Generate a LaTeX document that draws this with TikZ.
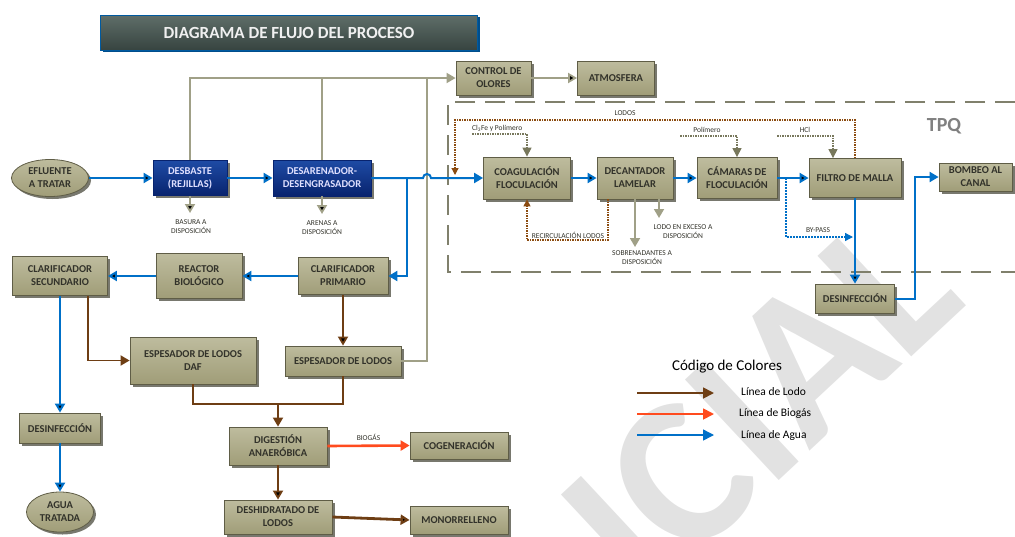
\documentclass[tikz,border=0pt]{standalone}
\usepackage{fontspec}
\setmainfont{Carlito}
\usepackage{tikz}
\usetikzlibrary{arrows.meta,shapes.geometric,shadows}

\definecolor{agua}{RGB}{0,112,200}
\definecolor{lodo}{RGB}{110,62,20}
\definecolor{biogas}{RGB}{255,75,30}
\definecolor{gris}{RGB}{160,160,135}
\definecolor{grisflecha}{RGB}{120,120,92}
\definecolor{caja}{RGB}{160,157,120}
\definecolor{cajaclara}{RGB}{190,188,158}
\definecolor{borde}{RGB}{95,93,70}
\definecolor{texto}{RGB}{50,50,42}
\definecolor{sombra}{RGB}{120,120,110}
\definecolor{azulosc}{RGB}{8,35,110}
\definecolor{azulcla}{RGB}{30,75,165}
\definecolor{titulo}{RGB}{95,110,105}
\definecolor{tituloosc}{RGB}{55,68,64}
\definecolor{marca}{RGB}{226,226,226}

\begin{document}
\begin{tikzpicture}[x=1pt,y=-1pt,>={Triangle[length=9pt,width=10pt]},
  proc/.style 2 args={draw=borde, line width=0.8pt, top color=cajaclara, bottom color=caja,
    minimum width=#1pt, minimum height=#2pt, inner sep=1pt, align=center, text=texto,
    font=\bfseries\fontsize{10.5}{13}\selectfont,
    drop shadow={shadow xshift=2.5pt, shadow yshift=-2.5pt, fill=sombra, opacity=1}},
  pretrat/.style 2 args={proc={#1}{#2}, draw=azulosc, top color=azulcla, bottom color=azulosc,
    text=white!88!blue},
  term/.style 2 args={proc={#1}{#2}, ellipse},
  etiq/.style={font=\fontsize{7.5}{9}\selectfont, text=texto, align=center, inner sep=0pt},
  agualin/.style={draw=agua, line width=2pt},
  lodolin/.style={draw=lodo, line width=1.8pt},
  grislin/.style={draw=gris, line width=1.8pt},
  lodopunt/.style={draw=lodo!80!orange, line width=1.2pt, dash pattern=on 1.5pt off 1pt,
    >={Triangle[length=7pt,width=7pt]}},
  grispunt/.style={draw=grisflecha, line width=1.1pt, dash pattern=on 1.5pt off 1pt,
    >={Triangle[length=9pt,width=9pt]}},
  leylin/.style={line width=1.8pt, ->, >={Triangle[length=11pt,width=11pt]}},
  leytxt/.style={font=\fontsize{11.5}{12}\selectfont, anchor=west, inner sep=0pt}]
\useasboundingbox (0,0) rectangle (1015,536);

% marca de agua
\node[name=marca, rotate=43, text=marca, inner sep=0pt,
  font=\bfseries\fontsize{212}{212}\selectfont] at (760,404) {ICIAL};

% titulo
\node[name=titulo, draw=agua!80!black, line width=0.8pt, top color=titulo, bottom color=tituloosc,
  minimum width=377pt, minimum height=35pt, text=white!88!gray,
  font=\bfseries\fontsize{17}{17}\selectfont,
  drop shadow={shadow xshift=2pt, shadow yshift=-2pt, fill=agua!70!black, opacity=1}]
  at (289,32.5) {DIAGRAMA DE FLUJO DEL PROCESO};

% zona TPQ
\draw[gris!80!black, line width=1.8pt, dash pattern=on 20pt off 10pt]
  (1015,102) -- (448,102) -- (448,272) -- (1015,272);
\node[name=tpq, text=gray, font=\bfseries\fontsize{20}{20}\selectfont] at (944,126) {TPQ};

% procesos
\node[name=control, proc={75}{34}] at (493.5,78) {CONTROL DE\\OLORES};
\node[name=atmosfera, proc={77}{34}] at (616,78) {ATMOSFERA};
\node[name=efluente, term={77}{37}] at (50,178) {EFLUENTE\\A TRATAR};
\node[name=desbaste, pretrat={74}{35}] at (190,178) {DESBASTE\\(REJILLAS)};
\node[name=desarenador, pretrat={98}{36}] at (322,178) {DESARENADOR-\\DESENGRASADOR};
\node[name=clarif_sec, proc={95}{39}] at (60,276) {CLARIFICADOR\\SECUNDARIO};
\node[name=reactor, proc={86}{45}] at (199,276) {REACTOR\\BIOLÓGICO};
\node[name=clarif_prim, proc={90}{37}] at (343,276) {CLARIFICADOR\\PRIMARIO};
\node[name=esp_daf, proc={126}{47}] at (193,360.5) {ESPESADOR DE LODOS\\DAF};
\node[name=espesador, proc={116}{30}] at (343,361) {ESPESADOR DE LODOS};
\node[name=digestion, proc={98}{38}] at (278,446) {DIGESTIÓN\\ANAERÓBICA};
\node[name=cogeneracion, proc={98}{27}] at (459,445.5) {COGENERACIÓN};
\node[name=deshidratado, proc={108}{34}] at (278,517) {DESHIDRATADO DE\\LODOS};
\node[name=monorrelleno, proc={98}{28}] at (459,520) {MONORRELLENO};
\node[name=desinf_izq, proc={81}{30}] at (60,428) {DESINFECCIÓN};
\node[name=agua_trat, term={67}{40}] at (60,512) {AGUA\\TRATADA};
\node[name=coag, proc={87}{42}] at (527,178) {COAGULACIÓN\\FLOCULACIÓN};
\node[name=decantador, proc={76}{42}] at (635,178) {DECANTADOR\\LAMELAR};
\node[name=camaras, proc={80}{41}] at (737,178) {CÁMARAS DE\\FLOCULACIÓN};
\node[name=filtro, proc={92}{39}] at (855,178) {FILTRO DE MALLA};
\node[name=bombeo, proc={73}{28}] at (975.5,177) {BOMBEO AL\\CANAL};
\node[name=desinf_der, proc={79}{29}] at (855,298.5) {DESINFECCIÓN};

% puntos sueltos
\coordinate (olor_sube) at (427,78);
\coordinate (rama_prim) at (407,178);
\coordinate (basura) at (190,213);
\coordinate (arenas) at (322,214);
\coordinate (union) at (343,404);
\coordinate (clfe_ini) at (472,134);
\coordinate (polim_ini) at (680,136);
\coordinate (hcl_ini) at (777,136);
\coordinate (lodos_esq) at (455,120);
\coordinate (lodos_fin) at (455,175);
\coordinate (recirc_esq) at (527,240);
\coordinate (sobren_fin) at (635,247);
\coordinate (exceso_fin) at (659,218);
\coordinate (bypass_ini) at (786,178);
\coordinate (bypass_fin) at (853,237);
\coordinate (canal_sube) at (915,240);

% linea de gases
\draw[grislin] (espesador.east) -| (olor_sube);
\draw[grislin] (desarenador.north) -- (desarenador.north |- control.west);
\draw[grislin,->] (desbaste.north) |- (control.west);
\draw[grislin](control.east) edge[->](atmosfera.west);
\draw[grislin](desbaste.south) edge[->](basura);
\draw[grislin](desarenador.south) edge[->](arenas);
\node[name=basura_txt, etiq] at (191,227) {BASURA A\\DISPOSICIÓN};
\node[name=arenas_txt, etiq] at (322,228) {ARENAS A\\DISPOSICIÓN};

% linea de agua
\draw[agualin](efluente.east) edge[->](desbaste.west);
\draw[agualin](desbaste.east) edge[->](desarenador.west);
\draw[agualin,->] (desarenador.east) -- (423,178) arc[start angle=180, end angle=360, radius=4] -- (coag.west);
\draw[agualin,->] (rama_prim) |- (clarif_prim.east);
\draw[agualin](clarif_prim.west) edge[->](reactor.east);
\draw[agualin](reactor.west) edge[->](clarif_sec.east);
\draw[agualin](clarif_sec.south) edge[->](desinf_izq.north);
\draw[agualin](desinf_izq.south) edge[->](agua_trat.north);
\draw[agualin](coag.east) edge[->](decantador.west);
\draw[agualin](decantador.east) edge[->](camaras.west);
\draw[agualin](camaras.east) edge[->](filtro.west);
\draw[agualin](filtro.south) edge[->](desinf_der.north);
\draw[agualin,->] (desinf_der.east) -| (canal_sube) |- (bombeo.west);
\draw[agua, line width=1.3pt, dash pattern=on 2pt off 1pt, >={Triangle[length=8pt,width=8pt]}, ->]
  (bypass_ini) |- (bypass_fin);
\node[name=bypass_txt, etiq] at (818,230) {BY-PASS};

% linea de lodos
\draw[lodolin,->] ([xshift=28pt]clarif_sec.south) |- (esp_daf.west);
\draw[lodolin](clarif_prim.south) edge[->](espesador.north);
\draw[lodolin] (esp_daf.south) |- (union) -- (espesador.south);
\draw[lodolin,->] (digestion.north |- union) -- (digestion.north);
\draw[lodolin](digestion.south) edge[->](deshidratado.north);
\draw[lodolin,line width=2.8pt](deshidratado.east) edge[->](monorrelleno.west);
\draw[biogas, line width=2.6pt](digestion.east) edge[->]node[above=4pt,etiq]{BIOGÁS}(cogeneracion.west);

% TPQ
\draw[grispunt,->] (clfe_ini) -| (coag.north);
\draw[grispunt,->] (polim_ini) -| (camaras.north);
\draw[grispunt,->] (hcl_ini) -| ([xshift=-22pt]filtro.north);
\node[name=clfe_txt, etiq, anchor=west] at (472,128) {Cl\textsubscript{3}Fe y Polímero};
\node[name=polim_txt, etiq] at (707,130) {Polímero};
\node[name=hcl_txt, etiq] at (805,130) {HCl};
\draw[lodopunt,->] (filtro.north) |- (lodos_esq) -- (lodos_fin);
\node[name=lodos_txt, etiq] at (625,113) {LODOS};
\draw[lodopunt,->] ([xshift=-27pt]decantador.south) |- (recirc_esq) -- (coag.south);
\node[name=recirc_txt, etiq] at (568,235) {RECIRCULACIÓN LODOS};
\draw[grislin,->] (decantador.south) -- (sobren_fin);
\draw[grislin,->] (decantador.south -| exceso_fin) -- (exceso_fin);
\node[name=sobren_txt, etiq] at (642,258) {SOBRENADANTES A\\DISPOSICIÓN};
\node[name=exceso_txt, etiq] at (683,232) {LODO EN EXCESO A\\DISPOSICIÓN};

% codigo de colores
\node[name=leyenda, font=\fontsize{15}{15}\selectfont] at (727,367) {Código de Colores};
\coordinate (ley_lodo_a) at (637,393);
\coordinate (ley_lodo_b) at (714,393);
\coordinate (ley_bio_a) at (637,414);
\coordinate (ley_bio_b) at (714,414);
\coordinate (ley_agua_a) at (637,435);
\coordinate (ley_agua_b) at (714,435);
\draw[leylin, draw=lodo] (ley_lodo_a) -- (ley_lodo_b);
\draw[leylin, draw=biogas] (ley_bio_a) -- (ley_bio_b);
\draw[leylin, draw=agua, line width=1.5pt] (ley_agua_a) -- (ley_agua_b);
\node[name=ley_lodo_txt, leytxt] at (741,392) {Línea de Lodo};
\node[name=ley_bio_txt, leytxt] at (739,413) {Línea de Biogás};
\node[name=ley_agua_txt, leytxt] at (741,435) {Línea de Agua};
\end{tikzpicture}
\end{document}
